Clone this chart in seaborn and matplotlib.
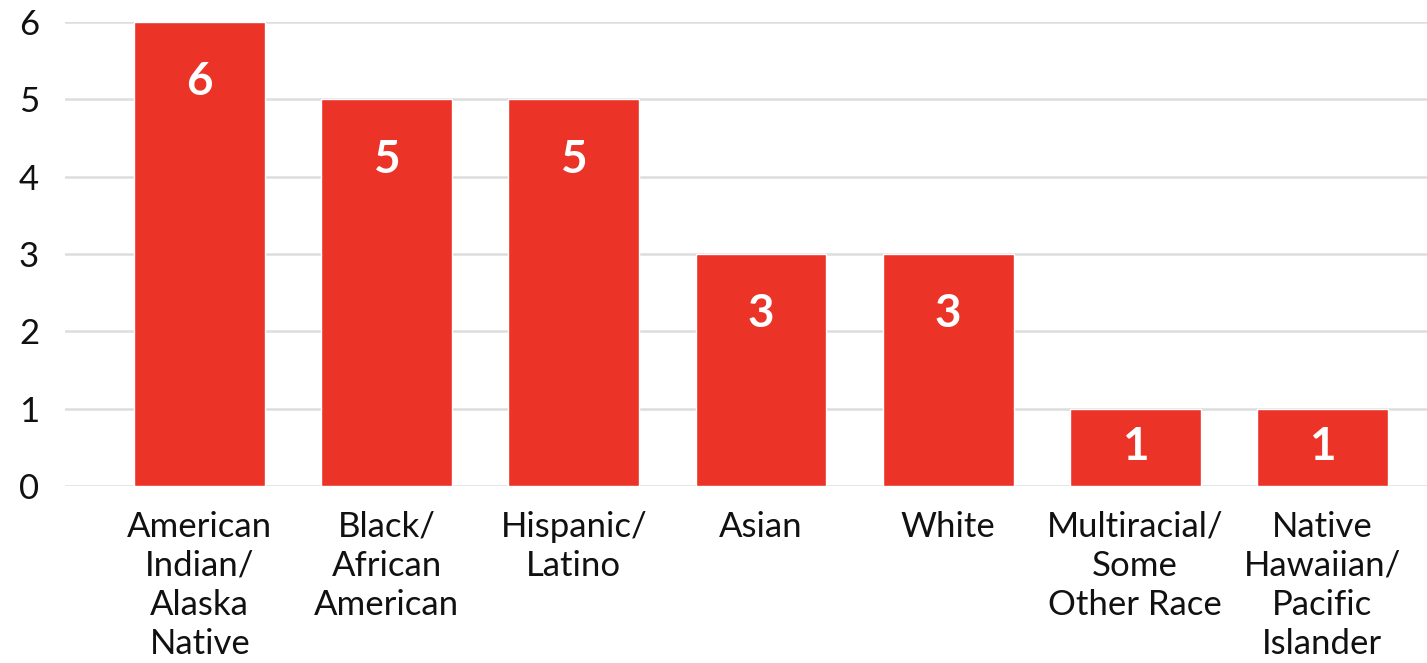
import matplotlib
matplotlib.use("Agg")
import matplotlib.pyplot as plt
import seaborn as sns
import pandas as pd

categories = ["American\nIndian/\nAlaska\nNative", "Black/\nAfrican\nAmerican", "Hispanic/\nLatino",
              "Asian", "White", "Multiracial/\nSome\nOther Race", "Native\nHawaiian/\nPacific\nIslander"]
values = [6, 5, 5, 3, 3, 1, 1]
yticks = [0, 1, 2, 3, 4, 5, 6]

sns.set_theme(style="white")
plt.rcParams['font.family'] = ['Lato', 'DejaVu Sans']

df = pd.DataFrame({"cat": categories, "val": values})

fig = plt.figure(figsize=(14.27, 6.63), dpi=100)
ax = fig.add_axes([0.0456, 0.267, 0.9544, 0.700])
sns.barplot(data=df, x="cat", y="val", color="#EB3327", saturation=1, width=0.7, ax=ax, zorder=3)

ax.set_ylim(0, 6)
ax.set_xlim(-0.72, 6.56)
ax.set_yticks(yticks)
ax.set_yticklabels([str(t) for t in yticks], fontsize=25, color="#111111")
ax.tick_params(axis="x", labelsize=25, pad=18, length=0, colors="#111111")
ax.tick_params(axis="y", pad=26, length=0)
for lbl in ax.get_yticklabels():
    lbl.set_horizontalalignment("center")
ax.yaxis.grid(True, color="#DDDDDD", linewidth=1.8, zorder=0)
ax.set_axisbelow(True)
for s in ax.spines.values():
    s.set_visible(False)
ax.set_xlabel("")
ax.set_ylabel("")
for lbl in ax.get_xticklabels():
    lbl.set_linespacing(1.27)

for i, v in enumerate(values):
    ax.text(i, v - min(0.78, v / 2), str(v), ha="center", va="center", color="white",
            fontsize=33, fontweight="bold", zorder=5)

fig.savefig("out.png", dpi=100)
